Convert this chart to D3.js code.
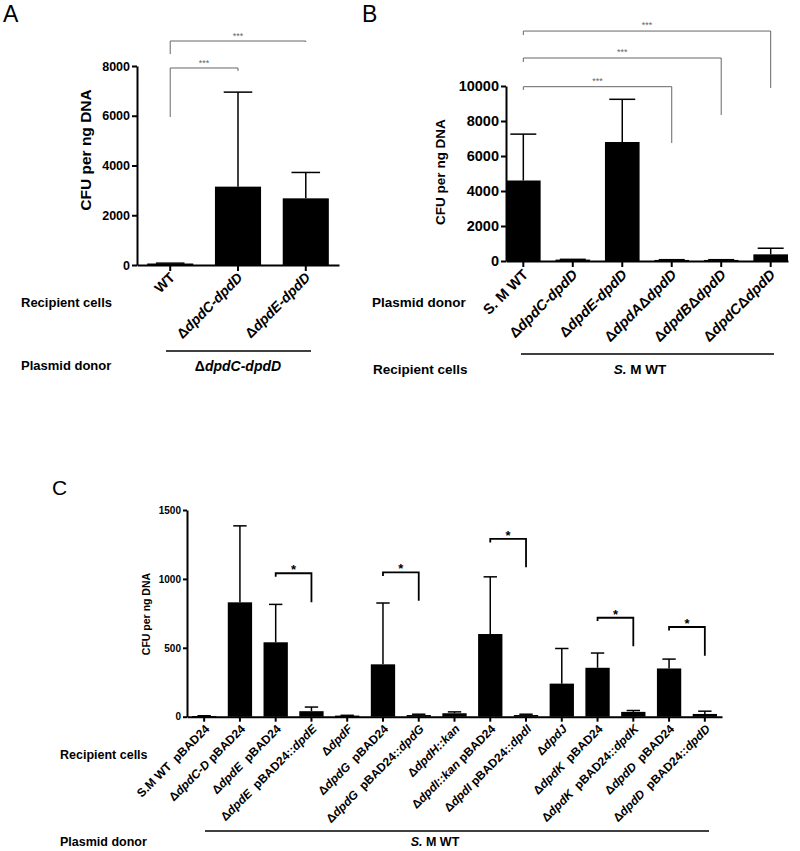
<!DOCTYPE html>
<html><head><meta charset="utf-8">
<script src="https://cdn.jsdelivr.net/npm/d3@7"></script>
<style>
body{margin:0;background:#fff}
svg{display:block;font-family:"Liberation Sans",Arial,Helvetica,sans-serif}
text{white-space:pre}
</style>
</head><body>
<svg id="chart" width="800" height="851"></svg>
<script>
// ---------- Panel A data ----------
const aCategories = ["WT", "Δ*dpdC-dpdD*", "Δ*dpdE-dpdD*"];
const aMeans = [60, 3150, 2680];
const aUpper = [75, 6950, 3720];
const aTicks = [0, 2000, 4000, 6000, 8000];
const aBrackets = [
  {from: 0, to: 1, level: 7920, leftEnd: 5950, rightEnd: 7800, label: "***"},
  {from: 0, to: 2, level: 9005, leftEnd: 8480, rightEnd: 8965, label: "***"}
];

// ---------- Panel B data ----------
const bCategories = ["S. M WT", "Δ*dpdC-dpdD*", "Δ*dpdE-dpdD*", "Δ*dpdA*Δ*dpdD*", "Δ*dpdB*Δ*dpdD*", "Δ*dpdC*Δ*dpdD*"];
const bMeans = [4600, 80, 6800, 60, 60, 380];
const bUpper = [7250, 95, 9240, 75, 75, 730];
const bTicks = [0, 2000, 4000, 6000, 8000, 10000];
const bBrackets = [
  {from: 0, to: 3, level: 9960, leftEnd: 9770, rightEnd: 6740, label: "***"},
  {from: 0, to: 4, level: 11600, leftEnd: 11370, rightEnd: 8340, label: "***"},
  {from: 0, to: 5, level: 13140, leftEnd: 12910, rightEnd: 9890, label: "***"}
];

// ---------- Panel C data ----------
const cCategories = [
  "S.M WT  pBAD24",
  "Δ*dpdC-D* pBAD24",
  "Δ*dpdE*  pBAD24",
  "Δ*dpdE*  pBAD24::*dpdE*",
  "Δ*dpdF*",
  "Δ*dpdG*  pBAD24",
  "Δ*dpdG*  pBAD24::*dpdG*",
  "Δ*dpdH::kan*",
  "Δ*dpdI::kan* pBAD24",
  "Δ*dpdI* pBAD24::*dpdI*",
  "Δ*dpdJ*",
  "Δ*dpdK*  pBAD24",
  "Δ*dpdK*  pBAD24::*dpdK*",
  "Δ*dpdD*  pBAD24",
  "Δ*dpdD*  pBAD24::*dpdD*"
];
const cMeans = [5, 830, 540, 40, 8, 380, 12, 25, 600, 12, 240, 355, 35, 350, 20];
const cUpper = [7, 1385, 815, 70, 10, 825, 18, 35, 1015, 18, 495, 462, 45, 418, 40];
const cTicks = [0, 500, 1000, 1500];
const cBrackets = [
  {from: 2, to: 3, level: 1041, leftEnd: 1016, rightEnd: 830, label: "*"},
  {from: 5, to: 6, level: 1048, leftEnd: 1021, rightEnd: 842, label: "*"},
  {from: 8, to: 9, level: 1290, leftEnd: 1264, rightEnd: 1084, label: "*"},
  {from: 11, to: 12, level: 718, leftEnd: 694, rightEnd: 512, label: "*"},
  {from: 13, to: 14, level: 651, leftEnd: 626, rightEnd: 443, label: "*"}
];

const svg = d3.select("#chart");

function rich(sel, str) {
  str.split("*").forEach((part, i) => {
    if (part) sel.append("tspan").attr("font-style", i % 2 ? "italic" : "normal").text(part);
  });
}

function panel(o) {
  const g = svg.append("g");
  const x = d3.scaleBand().domain(d3.range(o.cats.length))
    .range([o.x0, o.x1]).paddingInner(o.pi).paddingOuter(o.po);
  const y = d3.scaleLinear().domain([0, o.max]).range([o.y0, o.y1]);
  const bw = x.bandwidth();

  // bars
  g.selectAll("rect.bar").data(o.means).join("rect")
    .attr("class", "bar")
    .attr("x", (d, i) => x(i)).attr("width", bw)
    .attr("y", d => y(d)).attr("height", d => Math.max(1.5, o.y0 - y(d)))
    .attr("fill", "#000");

  // error bars (upper)
  const cw = bw * o.cap;
  o.upper.forEach((u, i) => {
    const cx = x(i) + bw / 2;
    g.append("line").attr("x1", cx).attr("x2", cx).attr("y1", y(o.means[i])).attr("y2", y(u))
      .attr("stroke", "#000").attr("stroke-width", o.lw);
    g.append("line").attr("x1", cx - cw / 2).attr("x2", cx + cw / 2).attr("y1", y(u)).attr("y2", y(u))
      .attr("stroke", "#000").attr("stroke-width", o.lw);
  });

  // y axis
  const ya = g.append("g").attr("transform", `translate(${o.x0},0)`)
    .call(d3.axisLeft(y).tickValues(o.ticks).tickSize(o.tickLen).tickSizeOuter(0).tickFormat(d3.format("d")));
  ya.select(".domain").attr("stroke", "#000").attr("stroke-width", o.aw);
  ya.selectAll(".tick line").attr("stroke", "#000").attr("stroke-width", o.aw);
  ya.selectAll(".tick text").attr("font-size", o.tickFont).attr("font-weight", "bold")
    .attr("font-family", "Liberation Sans, Arial, sans-serif").attr("fill", "#000").attr("x", -o.tickLen - 2);

  // x axis
  const xa = g.append("g").attr("transform", `translate(0,${o.y0})`)
    .call(d3.axisBottom(x).tickSize(o.tickLen + 1).tickSizeOuter(0).tickFormat(""));
  xa.select(".domain").attr("stroke", "#000").attr("stroke-width", o.aw);
  xa.selectAll(".tick line").attr("stroke", "#000").attr("stroke-width", o.aw);

  // x labels
  o.cats.forEach((c, i) => {
    const t = g.append("text")
      .attr("transform", `translate(${x(i) + bw / 2 + o.lx},${o.y0 + o.ly}) rotate(-45)`)
      .attr("text-anchor", "end").attr("dy", "0.35em")
      .attr("font-size", o.labFont).attr("font-weight", "bold").attr("fill", "#000");
    rich(t, c);
  });

  // y title
  g.append("text")
    .attr("transform", `translate(${o.titleX},${o.titleY}) rotate(-90)`)
    .attr("text-anchor", "middle").attr("font-size", o.titleFont).attr("font-weight", "bold")
    .text("CFU per ng DNA");

  // significance brackets
  o.brackets.forEach(b => {
    const xl = x(b.from) + bw / 2, xr = x(b.to) + bw / 2, yl = y(b.level);
    g.append("path")
      .attr("d", `M${xl},${y(b.leftEnd)}V${yl}H${xr}V${y(b.rightEnd)}`)
      .attr("fill", "none").attr("stroke", o.bColor).attr("stroke-width", o.bWidth);
    g.append("text").attr("x", (xl + xr) / 2).attr("y", yl + o.starDy)
      .attr("text-anchor", "middle").attr("font-size", o.starFont)
      .attr("font-weight", o.starWeight).attr("fill", o.bColor).text(b.label);
  });
  return {x, y};
}

panel({cats: aCategories, means: aMeans, upper: aUpper, ticks: aTicks, brackets: aBrackets,
  max: 8000, x0: 137, x1: 339, y0: 265, y1: 66, pi: 0.32, po: 0.15, cap: 0.62,
  lw: 1.5, aw: 2, tickLen: 5, tickFont: 12.5, labFont: 14, lx: 2, ly: 10,
  titleX: 91, titleY: 150, titleFont: 15.5,
  bColor: "#666", bWidth: 1, starFont: 9, starWeight: "normal", starDy: -2});

panel({cats: bCategories, means: bMeans, upper: bUpper, ticks: bTicks, brackets: bBrackets,
  max: 10000, x0: 506, x1: 788, y0: 261, y1: 86, pi: 0.3, po: 0, cap: 0.75,
  lw: 1.5, aw: 2, tickLen: 5, tickFont: 14.5, labFont: 14.5, lx: 2, ly: 11,
  titleX: 445, titleY: 172, titleFont: 13.5,
  bColor: "#666", bWidth: 1, starFont: 9, starWeight: "normal", starDy: -3});

panel({cats: cCategories, means: cMeans, upper: cUpper, ticks: cTicks, brackets: cBrackets,
  max: 1500, x0: 187, x1: 722, y0: 716.7, y1: 510, pi: 0.32, po: 0.14, cap: 0.55,
  lw: 1.5, aw: 2, tickLen: 4, tickFont: 10, labFont: 12, lx: 3, ly: 10,
  titleX: 150, titleY: 614, titleFont: 10.5,
  bColor: "#000", bWidth: 1.8, starFont: 13, starWeight: "bold", starDy: 1});

// ---------- panel letters ----------
const letters = [["A", 3, 22, 23], ["B", 362, 22, 23], ["C", 52, 495, 21]];
letters.forEach(([t, lx, ly, fs]) => svg.append("text").attr("x", lx).attr("y", ly)
  .attr("font-size", fs).text(t));

// ---------- row labels ----------
function label(txt, lx, ly, fs, anchor) {
  const t = svg.append("text").attr("x", lx).attr("y", ly).attr("dy", "0.35em")
    .attr("font-size", fs).attr("font-weight", "bold").attr("text-anchor", anchor || "start");
  rich(t, txt);
}
function hline(x1, x2, yy) {
  svg.append("line").attr("x1", x1).attr("x2", x2).attr("y1", yy).attr("y2", yy)
    .attr("stroke", "#000").attr("stroke-width", 1.5);
}
// A
label("Recipient cells", 21, 302, 13);
label("Plasmid donor", 21, 365, 13);
hline(166, 311, 351);
label("Δ*dpdC-dpdD*", 238, 366, 14, "middle");
// B
label("Plasmid donor", 372, 302, 13.5);
label("Recipient cells", 373, 369, 13.5);
hline(521, 774, 354);
label("*S.* M WT", 640, 369, 13.5, "middle");
// C
label("Recipient cells", 60, 755, 12.5);
label("Plasmid donor", 60, 842, 12.5);
hline(205, 709, 831);
label("*S.* M WT", 435, 842, 12.5, "middle");
</script>
</body></html>
